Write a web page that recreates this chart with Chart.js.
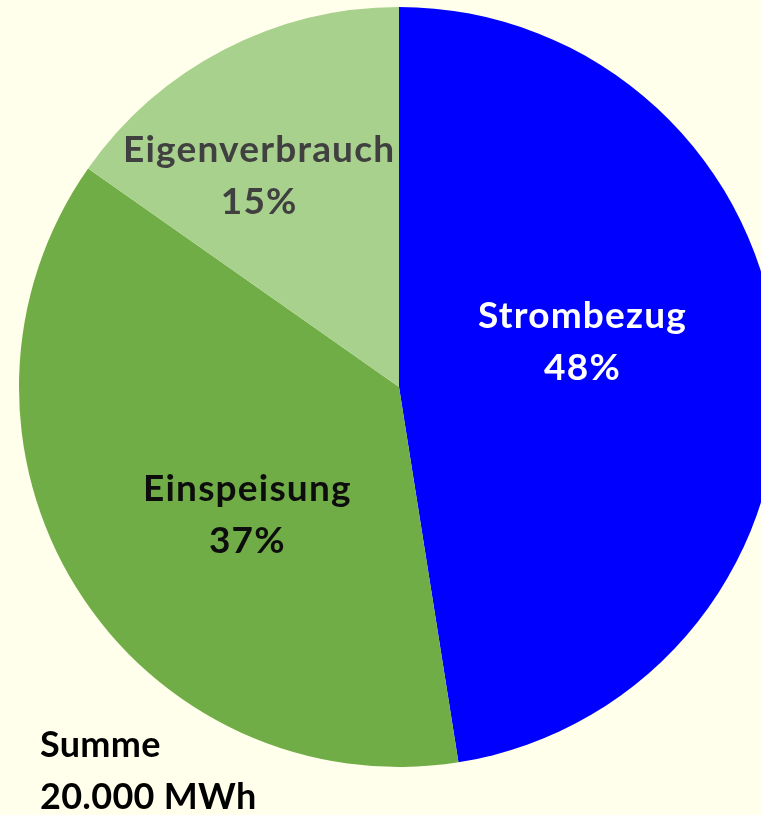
<!DOCTYPE html>
<html>
<head>
<meta charset="utf-8">
<script src="https://cdn.jsdelivr.net/npm/chart.js@4/dist/chart.umd.min.js"></script>
<style>
  html, body { margin: 0; padding: 0; background: #FFFFEB; overflow: hidden; }
  #wrap { width: 800px; height: 815px; position: relative; }
</style>
</head>
<body>
<div id="wrap"><canvas id="chart"></canvas></div>
<script>
const labels = ['Strombezug', 'Einspeisung', 'Eigenverbrauch'];
const values = [9500, 7450, 3050]; // MWh
const colors = ['#0000FF', '#70AD47', '#A9D18E'];
const textColors = ['#FFFFFF', '#0D0D0D', '#404040'];
const sumLines = ['Summe', '20.000 MWh'];

// label centre relative to pie centre, in radius units
const labelPos = [[0.483, -0.118], [-0.399, 0.338], [-0.368, -0.554]];

const total = values.reduce((a, b) => a + b, 0);
const fontFamily = 'Lato, "Open Sans", sans-serif';

const labelPlugin = {
    id: 'sliceLabels',
    afterDraw(chart) {
        const ctx = chart.ctx;
        const arcs = chart.getDatasetMeta(0).data;
        ctx.save();
        ctx.font = 'bold 37px ' + fontFamily;
        ctx.letterSpacing = '1.2px';
        ctx.textAlign = 'center';
        ctx.textBaseline = 'middle';
        arcs.forEach((arc, i) => {
            const pct = Math.round(values[i] / total * 100) + '%';
            const x = arc.x + labelPos[i][0] * arc.outerRadius;
            const y = arc.y + labelPos[i][1] * arc.outerRadius;
            ctx.fillStyle = textColors[i];
            ctx.fillText(labels[i], x, y - 26);
            ctx.fillText(pct, x, y + 26);
        });
        // total note, bottom left
        ctx.font = 'bold 36px ' + fontFamily;
        ctx.letterSpacing = '0.3px';
        ctx.textAlign = 'left';
        ctx.fillStyle = '#000000';
        ctx.fillText(sumLines[0], 40, 745);
        ctx.fillText(sumLines[1], 40, 797);
        ctx.restore();
    }
};

const ctx = document.getElementById('chart').getContext('2d');
new Chart(ctx, {
    type: 'pie',
    data: {
        labels: labels,
        datasets: [{
            data: values,
            backgroundColor: colors,
            borderWidth: 0
        }]
    },
    options: {
        responsive: true,
        maintainAspectRatio: false,
        animation: false,
        layout: { padding: { left: 19, right: 21, top: 7, bottom: 48 } },
        plugins: {
            legend: { display: false },
            tooltip: { enabled: false }
        }
    },
    plugins: [labelPlugin]
});
</script>
</body>
</html>
